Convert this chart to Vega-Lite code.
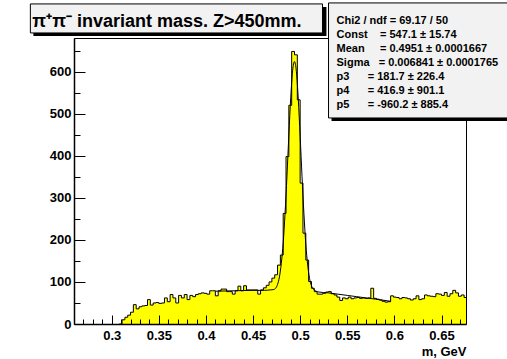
{
  "$schema": "https://vega.github.io/schema/vega-lite/v6.json",
  "width": 392,
  "height": 286,
  "autosize": {"type": "none"},
  "padding": {"left": 74, "top": 38, "right": 41, "bottom": 35},
  "background": "white",
  "config": {"view": {"stroke": "#000", "strokeWidth": 1}, "font": "Liberation Sans"},
  "datasets": {
    "hist": [
      {"m":0.308,"n":0},{"m":0.311,"n":10},{"m":0.314,"n":16},{"m":0.317,"n":21},{"m":0.320,"n":28},{"m":0.323,"n":46},{"m":0.326,"n":36},{"m":0.329,"n":41},{"m":0.332,"n":43},{"m":0.335,"n":44},{"m":0.338,"n":58},{"m":0.341,"n":45},{"m":0.344,"n":50},{"m":0.347,"n":51},{"m":0.350,"n":49},{"m":0.353,"n":50},{"m":0.356,"n":62},{"m":0.359,"n":53},{"m":0.362,"n":70},{"m":0.365,"n":62},{"m":0.368,"n":50},{"m":0.371,"n":68},{"m":0.374,"n":62},{"m":0.377,"n":70},{"m":0.380,"n":58},{"m":0.383,"n":68},{"m":0.386,"n":65},{"m":0.389,"n":70},{"m":0.392,"n":72},{"m":0.395,"n":74},{"m":0.398,"n":73},{"m":0.401,"n":71},{"m":0.404,"n":79},{"m":0.407,"n":79},{"m":0.410,"n":67},{"m":0.413,"n":79},{"m":0.416,"n":83},{"m":0.419,"n":83},{"m":0.422,"n":77},{"m":0.425,"n":77},{"m":0.428,"n":71},{"m":0.431,"n":79},{"m":0.434,"n":90},{"m":0.437,"n":79},{"m":0.440,"n":91},{"m":0.443,"n":81},{"m":0.446,"n":81},{"m":0.449,"n":81},{"m":0.452,"n":81},{"m":0.455,"n":71},{"m":0.458,"n":81},{"m":0.461,"n":86},{"m":0.464,"n":92},{"m":0.467,"n":100},{"m":0.470,"n":109},{"m":0.473,"n":117},{"m":0.476,"n":140},{"m":0.479,"n":164},{"m":0.482,"n":263},{"m":0.485,"n":398},{"m":0.488,"n":520},{"m":0.491,"n":648},{"m":0.494,"n":640},{"m":0.497,"n":533},{"m":0.500,"n":335},{"m":0.503,"n":216},{"m":0.506,"n":152},{"m":0.509,"n":101},{"m":0.512,"n":85},{"m":0.515,"n":77},{"m":0.518,"n":71},{"m":0.521,"n":71},{"m":0.524,"n":73},{"m":0.527,"n":76},{"m":0.530,"n":77},{"m":0.533,"n":72},{"m":0.536,"n":69},{"m":0.539,"n":64},{"m":0.542,"n":56},{"m":0.545,"n":62},{"m":0.548,"n":60},{"m":0.551,"n":64},{"m":0.554,"n":60},{"m":0.557,"n":62},{"m":0.560,"n":63},{"m":0.563,"n":61},{"m":0.566,"n":62},{"m":0.569,"n":61},{"m":0.572,"n":62},{"m":0.575,"n":85},{"m":0.578,"n":61},{"m":0.581,"n":59},{"m":0.584,"n":57},{"m":0.587,"n":54},{"m":0.590,"n":52},{"m":0.593,"n":53},{"m":0.596,"n":67},{"m":0.599,"n":64},{"m":0.602,"n":63},{"m":0.605,"n":60},{"m":0.608,"n":63},{"m":0.611,"n":62},{"m":0.614,"n":60},{"m":0.617,"n":57},{"m":0.620,"n":60},{"m":0.623,"n":67},{"m":0.626,"n":58},{"m":0.629,"n":60},{"m":0.632,"n":69},{"m":0.635,"n":67},{"m":0.638,"n":66},{"m":0.641,"n":65},{"m":0.644,"n":72},{"m":0.647,"n":71},{"m":0.650,"n":68},{"m":0.653,"n":75},{"m":0.656,"n":66},{"m":0.659,"n":72},{"m":0.662,"n":80},{"m":0.665,"n":74},{"m":0.668,"n":66},{"m":0.671,"n":69},{"m":0.674,"n":63},{"m":0.677,"n":63}
    ],
    "fit": [
      {"m":0.410,"f":78},{"m":0.430,"f":79},{"m":0.450,"f":80},{"m":0.462,"f":80},{"m":0.468,"f":81},{"m":0.472,"f":82},{"m":0.474,"f":85},{"m":0.476,"f":94},{"m":0.478,"f":112},{"m":0.480,"f":144},{"m":0.482,"f":193},{"m":0.484,"f":264},{"m":0.486,"f":352},{"m":0.488,"f":449},{"m":0.490,"f":538},{"m":0.492,"f":602},{"m":0.494,"f":624},{"m":0.496,"f":600},{"m":0.498,"f":535},{"m":0.500,"f":446},{"m":0.502,"f":350},{"m":0.504,"f":262},{"m":0.506,"f":190},{"m":0.508,"f":140},{"m":0.510,"f":108},{"m":0.512,"f":91},{"m":0.514,"f":83},{"m":0.517,"f":78},{"m":0.520,"f":76},{"m":0.530,"f":74},{"m":0.540,"f":71},{"m":0.550,"f":68},{"m":0.560,"f":65},{"m":0.570,"f":62},{"m":0.580,"f":59},{"m":0.590,"f":56},{"m":0.596,"f":54}
    ]
  },
  "layer": [
    {
      "data": {"name": "hist"},
      "mark": {"type": "area", "interpolate": "step-after", "color": "#ffff00", "clip": true},
      "encoding": {
        "x": {"field": "m", "type": "quantitative", "scale": {"domain": [0.26, 0.676], "nice": false, "zero": false},
          "axis": {"orient": "bottom", "values": [0.3,0.35,0.4,0.45,0.5,0.55,0.6,0.65], "format": "~g", "grid": false, "zindex": 1,
            "tickSize": -9, "tickColor": "#000", "tickWidth": 1, "domainColor": "#000", "domainWidth": 1.5,
            "labelFont": "Liberation Sans", "labelFontWeight": "bold", "labelFontSize": 13, "labelColor": "#000", "labelPadding": 14, "labelFlush": false, "labelOverlap": false,
            "title": "m, GeV", "titleFont": "Liberation Sans", "titleFontWeight": "bold", "titleFontSize": 13, "titleColor": "#000", "titleAnchor": "end", "titleAlign": "right", "titleX": 392, "titleY": 31, "titleBaseline": "alphabetic"}},
        "y": {"field": "n", "type": "quantitative", "scale": {"domain": [0, 680], "nice": false},
          "axis": {"orient": "left", "values": [0,100,200,300,400,500,600], "grid": false, "zindex": 1, "title": null,
            "tickSize": -11, "tickColor": "#000", "tickWidth": 1, "domainColor": "#000", "domainWidth": 1.5,
            "labelFont": "Liberation Sans", "labelFontWeight": "bold", "labelFontSize": 13, "labelColor": "#000", "labelPadding": 14, "labelOverlap": false}}
      }
    },
    {
      "data": {"name": "hist"},
      "mark": {"type": "line", "interpolate": "step-after", "color": "#000", "strokeWidth": 1, "clip": true},
      "encoding": {
        "x": {"field": "m", "type": "quantitative",
          "axis": {"orient": "bottom", "values": [0.27,0.28,0.29,0.31,0.32,0.33,0.34,0.36,0.37,0.38,0.39,0.41,0.42,0.43,0.44,0.46,0.47,0.48,0.49,0.51,0.52,0.53,0.54,0.56,0.57,0.58,0.59,0.61,0.62,0.63,0.64,0.66,0.67], "labels": false, "domain": false, "grid": false, "zindex": 1, "title": null, "tickSize": -5, "tickColor": "#000", "tickWidth": 1}},
        "y": {"field": "n", "type": "quantitative",
          "axis": {"orient": "left", "values": [50,150,250,350,450,550,650], "labels": false, "domain": false, "grid": false, "zindex": 1, "title": null, "tickSize": -6, "tickColor": "#000", "tickWidth": 1}}
      }
    },
    {
      "data": {"name": "fit"},
      "mark": {"type": "line", "interpolate": "monotone", "color": "#000", "strokeWidth": 1},
      "encoding": {
        "x": {"field": "m", "type": "quantitative", "axis": null},
        "y": {"field": "f", "type": "quantitative", "axis": null}
      }
    },
    {
      "data": {"values": [{}]},
      "mark": {"type": "rect", "color": "#000"},
      "encoding": {"x": {"datum": 0.2169, "axis": null}, "x2": {"datum": 0.5279}, "y": {"datum": 753.9, "axis": null}, "y2": {"datum": 684.9}}
    },
    {
      "data": {"values": [{}]},
      "mark": {"type": "rect", "fill": "#f2f2f2", "stroke": "#000", "strokeWidth": 1},
      "encoding": {"x": {"datum": 0.2137, "axis": null}, "x2": {"datum": 0.5237}, "y": {"datum": 761.0, "axis": null}, "y2": {"datum": 692.0}}
    },
    {
      "data": {"values": [{}]},
      "mark": {"type": "text", "align": "left", "baseline": "alphabetic", "font": "Liberation Sans", "fontWeight": "bold", "fontSize": 18, "color": "#000"},
      "encoding": {"x": {"datum": 0.2158, "axis": null}, "y": {"datum": 706.3, "axis": null}, "text": {"value": "π⁺π⁻ invariant mass. Z>450mm."}}
    },
    {
      "data": {"values": [{}]},
      "mark": {"type": "rect", "color": "#000"},
      "encoding": {"x": {"datum": 0.5333, "axis": null}, "x2": {"datum": 0.73}, "y": {"datum": 756.2, "axis": null}, "y2": {"datum": 482.8}}
    },
    {
      "data": {"values": [{}]},
      "mark": {"type": "rect", "fill": "#f2f2f2", "stroke": "#000", "strokeWidth": 1},
      "encoding": {"x": {"datum": 0.5301, "axis": null}, "x2": {"datum": 0.7243}, "y": {"datum": 763.4, "axis": null}, "y2": {"datum": 489.9}}
    },
    {
      "data": {"values": [{}]},
      "mark": {"type": "text", "align": "left", "baseline": "alphabetic", "font": "Liberation Sans", "fontWeight": "bold", "fontSize": 11, "lineHeight": 13.9, "color": "#000"},
      "encoding": {"x": {"datum": 0.5386, "axis": null}, "y": {"datum": 712.5, "axis": null},
        "text": {"value": ["Chi2 / ndf = 69.17 / 50", "Const\u00a0\u00a0\u00a0 = 547.1 ± 15.74", "Mean\u00a0\u00a0\u00a0\u00a0 = 0.4951 ± 0.0001667", "Sigma\u00a0\u00a0 = 0.006841 ± 0.0001765", "p3\u00a0\u00a0\u00a0\u00a0\u00a0 = 181.7 ± 226.4", "p4\u00a0\u00a0\u00a0\u00a0\u00a0 = 416.9 ± 901.1", "p5\u00a0\u00a0\u00a0\u00a0\u00a0 = -960.2 ± 885.4"]}}
    }
  ],
  "resolve": {"axis": {"x": "independent", "y": "independent"}}
}
